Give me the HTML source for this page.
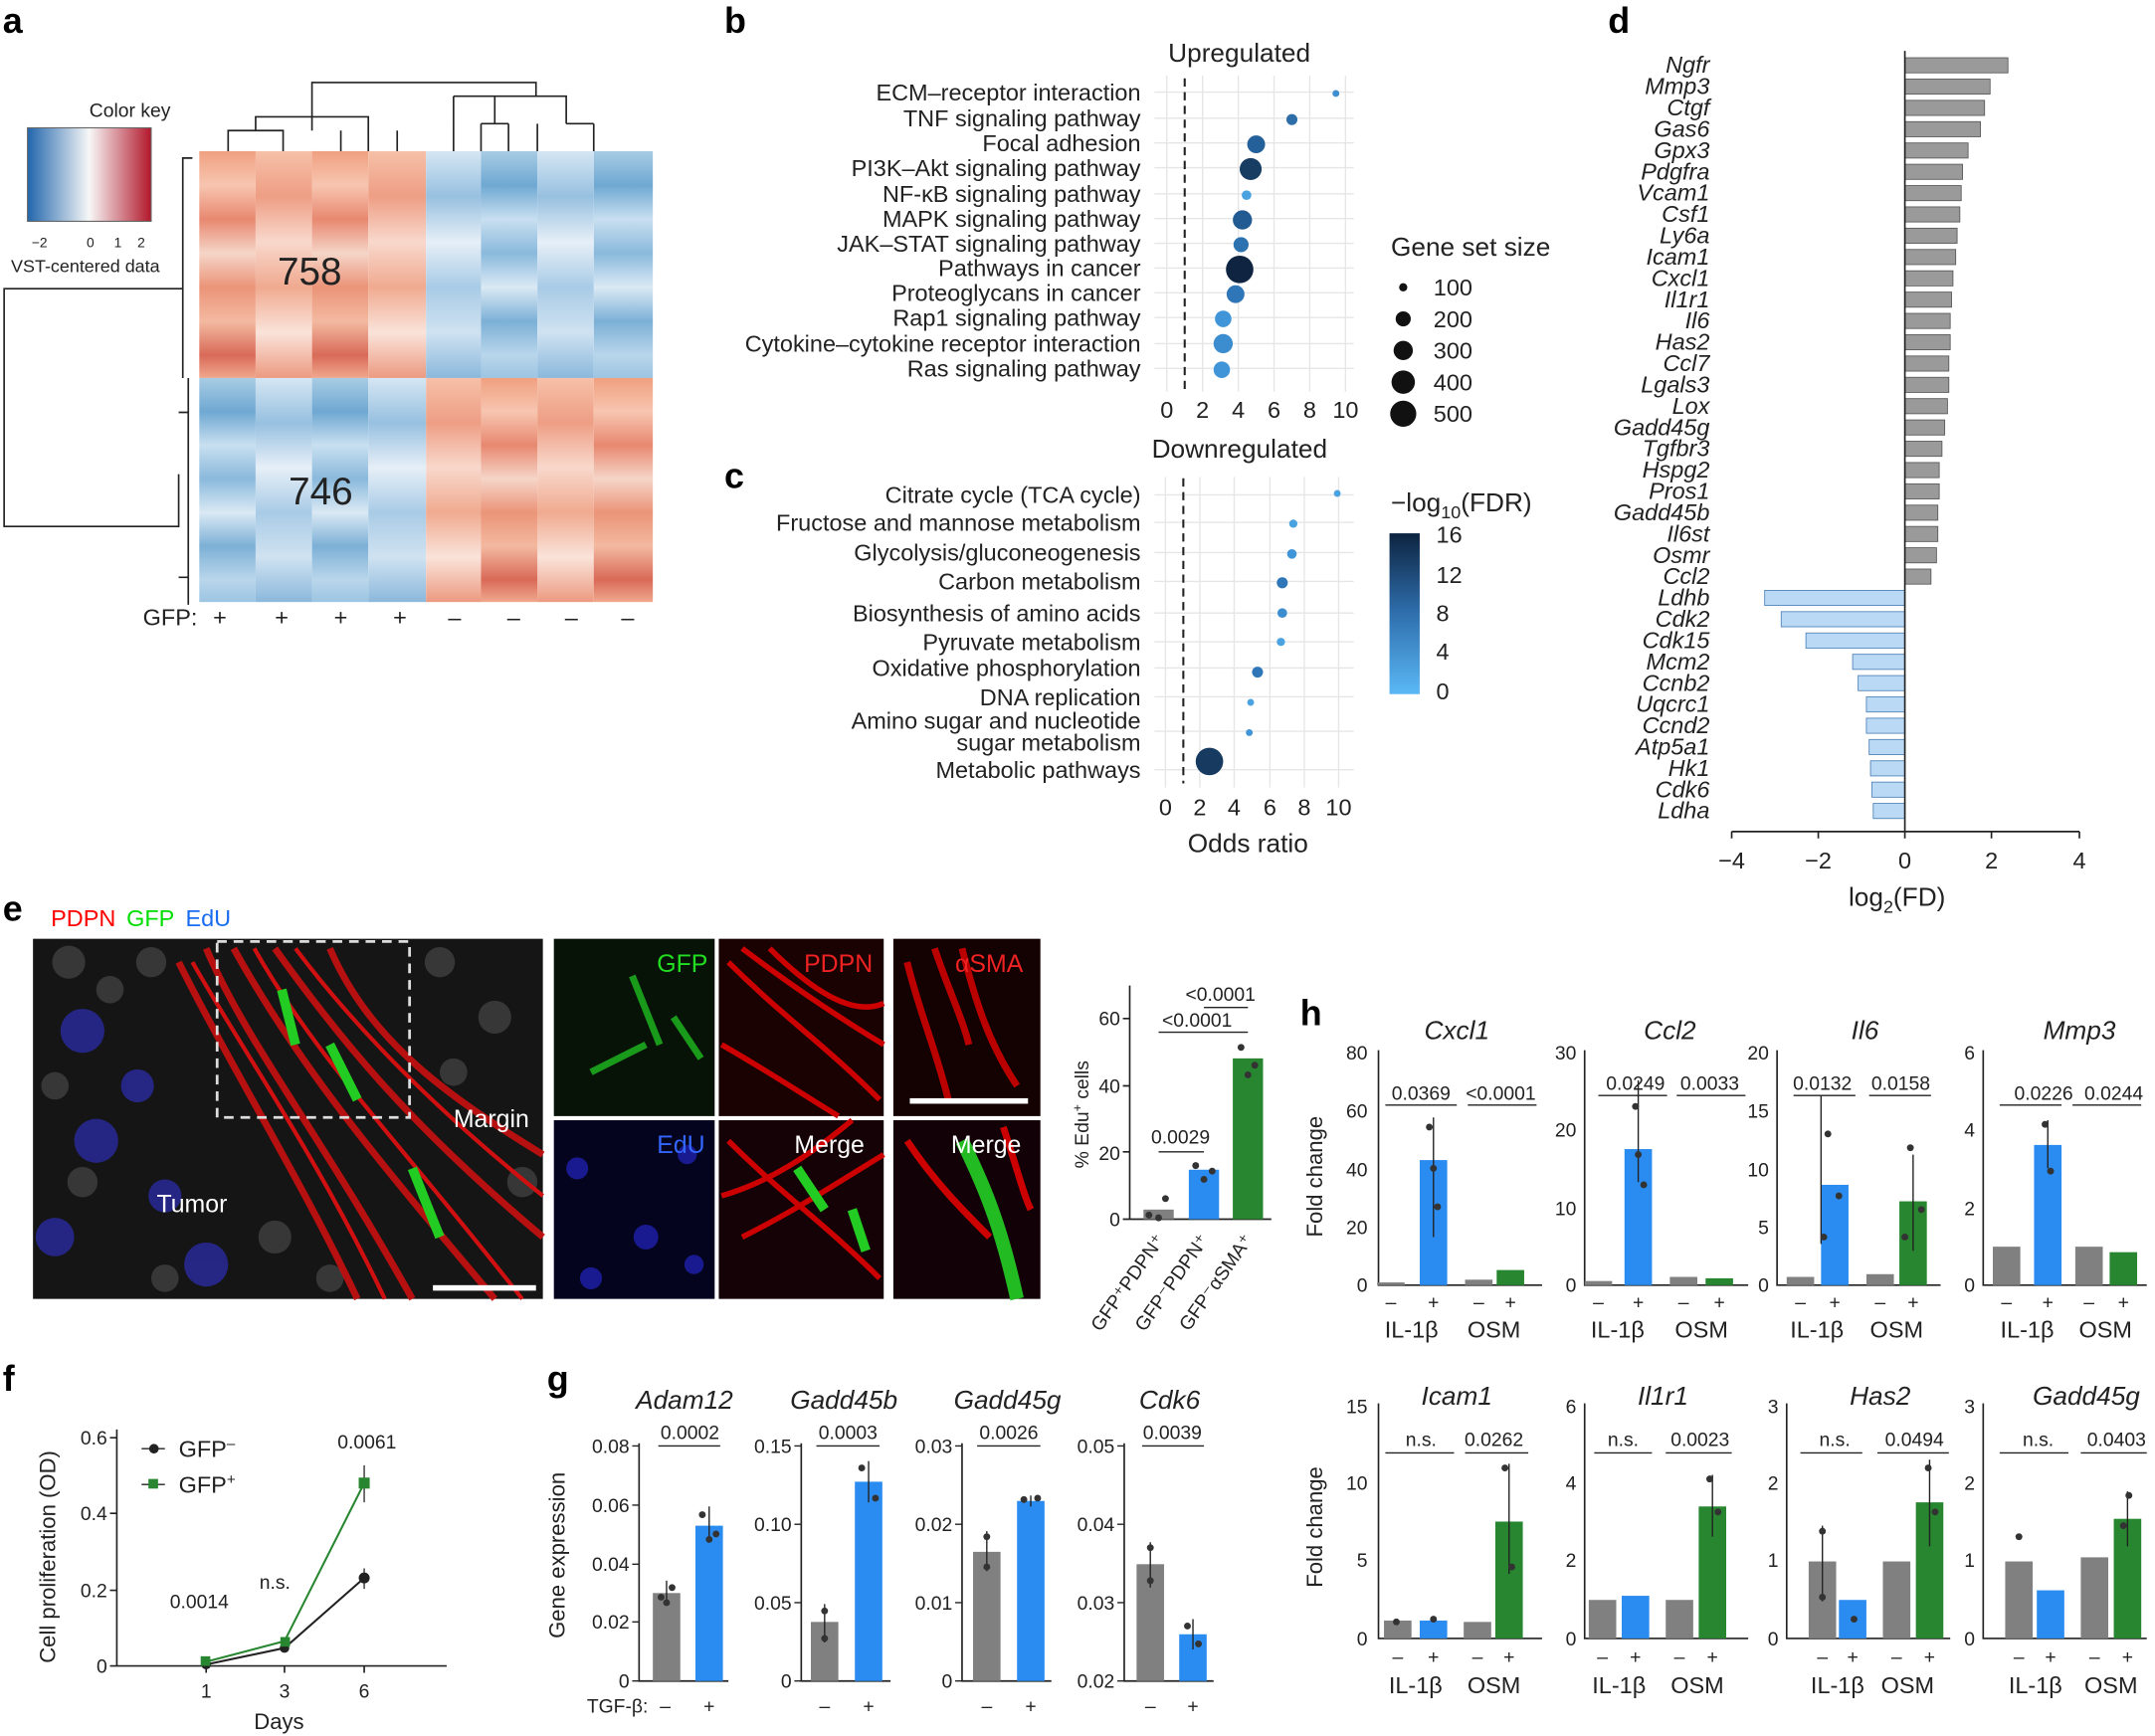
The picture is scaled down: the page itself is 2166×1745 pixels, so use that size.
<!DOCTYPE html>
<html><head><meta charset="utf-8"><style>
html,body{margin:0;padding:0;background:#fff}
svg{display:block}
text{font-family:"Liberation Sans",Arial,sans-serif;fill:#222}
.t{font-size:17px}.s{font-size:14px}.i{font-style:italic}.L{font-size:26px;font-weight:bold;fill:#000}
.ax{stroke:#222;stroke-width:1.2;fill:none}
.g{fill:#808080}.b{fill:#2a8cf0}.gr{fill:#27862f}
</style></head><body>
<svg width="2166" height="1745" viewBox="0 0 1568 1263" preserveAspectRatio="none" xmlns="http://www.w3.org/2000/svg">
<defs>
<linearGradient id="ck" x1="0" x2="1"><stop offset="0" stop-color="#2166ac"/><stop offset=".5" stop-color="#f7f7f7"/><stop offset="1" stop-color="#b2182b"/></linearGradient>
<linearGradient id="fdr" x1="0" y1="0" x2="0" y2="1"><stop offset="0" stop-color="#0d2440"/><stop offset=".5" stop-color="#2f6fae"/><stop offset="1" stop-color="#5ab8f5"/></linearGradient>
<linearGradient id="r1" x1="0" y1="0" x2="0" y2="1"><stop offset="0" stop-color="#f0a080"/><stop offset=".15" stop-color="#f7c5b0"/><stop offset=".3" stop-color="#e88870"/><stop offset=".45" stop-color="#f5d5c8"/><stop offset=".6" stop-color="#eb9478"/><stop offset=".75" stop-color="#f3b9a0"/><stop offset=".9" stop-color="#d96a58"/><stop offset="1" stop-color="#f0a88e"/></linearGradient>
<linearGradient id="r2" x1="0" y1="0" x2="0" y2="1"><stop offset="0" stop-color="#f6c0a8"/><stop offset=".2" stop-color="#ee9e84"/><stop offset=".4" stop-color="#f8d8cc"/><stop offset=".6" stop-color="#f0aa90"/><stop offset=".8" stop-color="#fae3da"/><stop offset="1" stop-color="#ec9a80"/></linearGradient>
<linearGradient id="b1" x1="0" y1="0" x2="0" y2="1"><stop offset="0" stop-color="#a8cce4"/><stop offset=".15" stop-color="#6fa8d2"/><stop offset=".3" stop-color="#c8dff0"/><stop offset=".45" stop-color="#8ab9dc"/><stop offset=".6" stop-color="#dae9f4"/><stop offset=".75" stop-color="#7cb0d6"/><stop offset=".9" stop-color="#b9d6eb"/><stop offset="1" stop-color="#9cc4e2"/></linearGradient>
<linearGradient id="b2" x1="0" y1="0" x2="0" y2="1"><stop offset="0" stop-color="#d5e6f3"/><stop offset=".2" stop-color="#97c0e0"/><stop offset=".4" stop-color="#e6eff7"/><stop offset=".6" stop-color="#a9cbe6"/><stop offset=".8" stop-color="#cfe2f1"/><stop offset="1" stop-color="#8bb8dc"/></linearGradient>
</defs>
<!-- panel a -->
<text x="2" y="24" class="L">a</text>
<text x="65" y="85" class="s">Color key</text>
<rect x="20" y="93" width="90" height="68" fill="url(#ck)" stroke="#666" stroke-width=".8"/>
<text x="23" y="180" style="font-size:10px">−2</text><text x="63" y="180" style="font-size:10px">0</text><text x="83" y="180" style="font-size:10px">1</text><text x="100" y="180" style="font-size:10px">2</text>
<text x="8" y="198" style="font-size:13px">VST-centered data</text>
<g fill="url(#r1)"><rect x="145" y="110" width="41" height="165"/><rect x="227" y="110" width="41" height="165"/></g>
<g fill="url(#r2)"><rect x="186" y="110" width="41" height="165"/><rect x="268" y="110" width="42" height="165"/></g>
<g fill="url(#b1)"><rect x="350" y="110" width="41" height="165"/><rect x="432" y="110" width="43" height="165"/><rect x="145" y="275" width="41" height="163"/><rect x="227" y="275" width="41" height="163"/></g>
<g fill="url(#b2)"><rect x="310" y="110" width="40" height="165"/><rect x="391" y="110" width="41" height="165"/><rect x="186" y="275" width="41" height="163"/><rect x="268" y="275" width="42" height="163"/></g>
<g fill="url(#r2)"><rect x="310" y="275" width="40" height="163"/><rect x="391" y="275" width="41" height="163"/></g>
<g fill="url(#r1)"><rect x="350" y="275" width="41" height="163"/><rect x="432" y="275" width="43" height="163"/></g>
<text x="202" y="207" style="font-size:28px">758</text><text x="210" y="367" style="font-size:28px">746</text>
<g class="ax" stroke-width="1">
<path d="M166 110V95H206V110M186 95V85H268V95M248 95V110M289 95V110M268 95V110M227 95V85M227 85V60H390V70M330 70V110M350 90V110M370 90V110M350 90H370M360 90V70M330 70H412V90M391 90V110M432 90V110M412 90H432"/>
<path d="M140 115H133V275M133 210H3V383H130V345M130 300H137M130 420H137M137 275V440"/>
</g>
<text x="104" y="455" class="t">GFP:</text>
<g class="t"><text x="155" y="455">+</text><text x="200" y="455">+</text><text x="243" y="455">+</text><text x="286" y="455">+</text><text x="326" y="455">–</text><text x="369" y="455">–</text><text x="411" y="455">–</text><text x="452" y="455">–</text></g>
<!-- panel b -->
<text x="527" y="24" class="L">b</text>
<text x="850" y="45" style="font-size:19px">Upregulated</text>
<g stroke="#e6e6e6"><path d="M849 55V285M875 55V285M901 55V285M927 55V285M953 55V285M979 55V285"/>
<path d="M840 67H985M840 86H985M840 104H985M840 122H985M840 141H985M840 159H985M840 177H985M840 195H985M840 213H985M840 231H985M840 250H985M840 268H985"/></g>
<path d="M862 57V283" stroke="#222" stroke-dasharray="6,4" stroke-width="1.5"/>
<g class="t" text-anchor="end">
<text x="830" y="73">ECM–receptor interaction</text><text x="830" y="92">TNF signaling pathway</text><text x="830" y="110">Focal adhesion</text><text x="830" y="128">PI3K–Akt signaling pathway</text><text x="830" y="147">NF-κB signaling pathway</text><text x="830" y="165">MAPK signaling pathway</text><text x="830" y="183">JAK–STAT signaling pathway</text><text x="830" y="201">Pathways in cancer</text><text x="830" y="219">Proteoglycans in cancer</text><text x="830" y="237">Rap1 signaling pathway</text><text x="830" y="256">Cytokine–cytokine receptor interaction</text><text x="830" y="274">Ras signaling pathway</text></g>
<circle cx="972" cy="68" r="2.5" fill="#3f8fd0"/><circle cx="940" cy="87" r="4" fill="#2d6ea8"/><circle cx="914" cy="105" r="6.5" fill="#24609a"/><circle cx="910" cy="123" r="8" fill="#173d63"/><circle cx="907" cy="142" r="3.5" fill="#4aa2e0"/><circle cx="904" cy="160" r="7" fill="#225a92"/><circle cx="903" cy="178" r="5.5" fill="#2c72b0"/><circle cx="902" cy="196" r="10" fill="#0e2440"/><circle cx="899" cy="214" r="6.5" fill="#2e76b8"/><circle cx="890" cy="232" r="6" fill="#3f95d8"/><circle cx="890" cy="250" r="7" fill="#3b8dd0"/><circle cx="889" cy="269" r="6" fill="#3f95d8"/>
<g class="t" text-anchor="middle"><text x="849" y="304">0</text><text x="875" y="304">2</text><text x="901" y="304">4</text><text x="927" y="304">6</text><text x="953" y="304">8</text><text x="979" y="304">10</text></g>
<text x="1012" y="186" style="font-size:19px">Gene set size</text>
<circle cx="1021" cy="209" r="3" fill="#111"/><circle cx="1021" cy="232" r="5.5" fill="#111"/><circle cx="1021" cy="255" r="7" fill="#111"/><circle cx="1021" cy="278" r="8.5" fill="#111"/><circle cx="1021" cy="301" r="9.5" fill="#111"/>
<g class="t"><text x="1043" y="215">100</text><text x="1043" y="238">200</text><text x="1043" y="261">300</text><text x="1043" y="284">400</text><text x="1043" y="307">500</text></g>
<!-- panel c -->
<text x="527" y="355" class="L">c</text>
<text x="838" y="333" style="font-size:19px">Downregulated</text>
<g stroke="#e6e6e6"><path d="M848 347V573M873 347V573M898 347V573M924 347V573M949 347V573M974 347V573"/>
<path d="M840 360H985M840 380H985M840 402H985M840 423H985M840 446H985M840 467H985M840 486H985M840 507H985M840 532H985M840 560H985"/></g>
<path d="M861 348V570" stroke="#222" stroke-dasharray="6,4" stroke-width="1.5"/>
<g class="t" text-anchor="end">
<text x="830" y="366">Citrate cycle (TCA cycle)</text><text x="830" y="386">Fructose and mannose metabolism</text><text x="830" y="408">Glycolysis/gluconeogenesis</text><text x="830" y="429">Carbon metabolism</text><text x="830" y="452">Biosynthesis of amino acids</text><text x="830" y="473">Pyruvate metabolism</text><text x="830" y="492">Oxidative phosphorylation</text><text x="830" y="513">DNA replication</text><text x="830" y="530">Amino sugar and nucleotide</text><text x="830" y="546">sugar metabolism</text><text x="830" y="566">Metabolic pathways</text></g>
<circle cx="973" cy="359" r="2.5" fill="#4aa2e0"/><circle cx="941" cy="381" r="3" fill="#4aa2e0"/><circle cx="940" cy="403" r="3.5" fill="#3f95d8"/><circle cx="933" cy="424" r="4" fill="#2e76b8"/><circle cx="933" cy="446" r="3.5" fill="#3b8dd0"/><circle cx="932" cy="467" r="3" fill="#4aa2e0"/><circle cx="915" cy="489" r="4" fill="#2e76b8"/><circle cx="910" cy="511" r="2.5" fill="#4aa2e0"/><circle cx="909" cy="533" r="2.5" fill="#3f95d8"/><circle cx="880" cy="554" r="10" fill="#163a60"/>
<g class="t" text-anchor="middle"><text x="848" y="593">0</text><text x="873" y="593">2</text><text x="898" y="593">4</text><text x="924" y="593">6</text><text x="949" y="593">8</text><text x="974" y="593">10</text></g>
<text x="908" y="620" text-anchor="middle" style="font-size:19px">Odds ratio</text>
<text x="1012" y="372" style="font-size:19px">−log<tspan dy="5" font-size="13">10</tspan><tspan dy="-5">(FDR)</tspan></text>
<rect x="1011" y="388" width="22" height="117" fill="url(#fdr)"/>
<g class="t"><text x="1045" y="395">16</text><text x="1045" y="424">12</text><text x="1045" y="452">8</text><text x="1045" y="480">4</text><text x="1045" y="509">0</text></g>
<!-- panel d -->
<text x="1170" y="24" class="L">d</text>
<g stroke="#555" stroke-width=".6" fill="#9a9a9a">
<rect x="1386" y="42" width="75" height="11"/><rect x="1386" y="57.5" width="62" height="11"/><rect x="1386" y="73" width="58" height="11"/><rect x="1386" y="88.5" width="55" height="11"/><rect x="1386" y="104" width="46" height="11"/><rect x="1386" y="119.5" width="42" height="11"/><rect x="1386" y="135" width="41" height="11"/><rect x="1386" y="150.5" width="40" height="11"/><rect x="1386" y="166" width="38" height="11"/><rect x="1386" y="181.5" width="37" height="11"/><rect x="1386" y="197" width="35" height="11"/><rect x="1386" y="212.5" width="34" height="11"/><rect x="1386" y="228" width="33" height="11"/><rect x="1386" y="243.5" width="33" height="11"/><rect x="1386" y="259" width="32" height="11"/><rect x="1386" y="274.5" width="32" height="11"/><rect x="1386" y="290" width="31" height="11"/><rect x="1386" y="305.5" width="29" height="11"/><rect x="1386" y="321" width="27" height="11"/><rect x="1386" y="336.5" width="25" height="11"/><rect x="1386" y="352" width="25" height="11"/><rect x="1386" y="367.5" width="24" height="11"/><rect x="1386" y="383" width="24" height="11"/><rect x="1386" y="398.5" width="23" height="11"/><rect x="1386" y="414" width="19" height="11"/></g>
<g stroke="#4a7fb5" stroke-width=".6" fill="#b9d9f5">
<rect x="1284" y="429.5" width="102" height="11"/><rect x="1296" y="445" width="90" height="11"/><rect x="1314" y="460.5" width="72" height="11"/><rect x="1348" y="476" width="38" height="11"/><rect x="1352" y="491.5" width="34" height="11"/><rect x="1358" y="507" width="28" height="11"/><rect x="1358" y="522.5" width="28" height="11"/><rect x="1360" y="538" width="26" height="11"/><rect x="1361" y="553.5" width="25" height="11"/><rect x="1362" y="569" width="24" height="11"/><rect x="1363" y="584.5" width="23" height="11"/></g>
<path d="M1386 37V605M1260 605H1513M1260 605v5M1323 605v5M1386 605v5M1449 605v5M1513 605v5" class="ax"/>
<g class="t i" text-anchor="end">
<text x="1244" y="53">Ngfr</text><text x="1244" y="68.5">Mmp3</text><text x="1244" y="84">Ctgf</text><text x="1244" y="99.5">Gas6</text><text x="1244" y="115">Gpx3</text><text x="1244" y="130.5">Pdgfra</text><text x="1244" y="146">Vcam1</text><text x="1244" y="161.5">Csf1</text><text x="1244" y="177">Ly6a</text><text x="1244" y="192.5">Icam1</text><text x="1244" y="208">Cxcl1</text><text x="1244" y="223.5">Il1r1</text><text x="1244" y="239">Il6</text><text x="1244" y="254.5">Has2</text><text x="1244" y="270">Ccl7</text><text x="1244" y="285.5">Lgals3</text><text x="1244" y="301">Lox</text><text x="1244" y="316.5">Gadd45g</text><text x="1244" y="332">Tgfbr3</text><text x="1244" y="347.5">Hspg2</text><text x="1244" y="363">Pros1</text><text x="1244" y="378.5">Gadd45b</text><text x="1244" y="394">Il6st</text><text x="1244" y="409.5">Osmr</text><text x="1244" y="425">Ccl2</text><text x="1244" y="440.5">Ldhb</text><text x="1244" y="456">Cdk2</text><text x="1244" y="471.5">Cdk15</text><text x="1244" y="487">Mcm2</text><text x="1244" y="502.5">Ccnb2</text><text x="1244" y="518">Uqcrc1</text><text x="1244" y="533.5">Ccnd2</text><text x="1244" y="549">Atp5a1</text><text x="1244" y="564.5">Hk1</text><text x="1244" y="580">Cdk6</text><text x="1244" y="595.5">Ldha</text></g>
<g class="t" text-anchor="middle"><text x="1260" y="632">−4</text><text x="1323" y="632">−2</text><text x="1386" y="632">0</text><text x="1449" y="632">2</text><text x="1513" y="632">4</text></g>
<text x="1345" y="659" style="font-size:19px">log<tspan dy="5" font-size="13">2</tspan><tspan dy="-5">(FD)</tspan></text>
<!-- panel e -->
<text x="2" y="670" class="L">e</text>
<text x="37" y="674" class="t" style="fill:#f00">PDPN</text><text x="92" y="674" class="t" style="fill:#0d0">GFP</text><text x="135" y="674" class="t" style="fill:#1a6cf0">EdU</text>
<rect x="24" y="683" width="371" height="262" fill="#151515"/>
<g fill="#777" opacity=".35"><circle cx="50" cy="700" r="12"/><circle cx="80" cy="720" r="10"/><circle cx="110" cy="700" r="11"/><circle cx="40" cy="790" r="10"/><circle cx="320" cy="700" r="11"/><circle cx="360" cy="740" r="12"/><circle cx="330" cy="780" r="10"/><circle cx="60" cy="860" r="11"/><circle cx="200" cy="900" r="12"/><circle cx="240" cy="930" r="10"/><circle cx="380" cy="860" r="11"/><circle cx="120" cy="930" r="10"/></g>
<g fill="#2a2aa0" opacity=".8"><circle cx="60" cy="750" r="16"/><circle cx="70" cy="830" r="16"/><circle cx="40" cy="900" r="14"/><circle cx="150" cy="920" r="16"/><circle cx="100" cy="790" r="12"/><circle cx="120" cy="870" r="12"/></g>
<path d="M150 690C180 760 230 820 300 945M170 690C220 780 280 850 360 945M130 700C170 780 220 860 260 945M200 690C250 760 300 820 395 900M240 690C270 760 330 800 395 840" stroke="#c81010" stroke-width="5" fill="none" opacity=".9"/>
<path d="M140 700C180 770 230 840 280 945M185 690C230 770 290 830 380 945M215 690C260 750 320 810 395 870" stroke="#d01010" stroke-width="3" fill="none"/>
<path d="M240 760L260 800M300 850L320 900M205 720L215 760" stroke="#2c2" stroke-width="7"/>
<rect x="158" y="685" width="140" height="128" fill="none" stroke="#ddd" stroke-width="2" stroke-dasharray="7,5"/>
<text x="330" y="820" class="t" style="fill:#fff;font-size:18px">Margin</text><text x="114" y="882" class="t" style="fill:#fff;font-size:18px">Tumor</text>
<rect x="315" y="935" width="75" height="4" fill="#fff"/>
<rect x="403" y="683" width="117" height="129" fill="#061306"/><path d="M460 710L480 760M490 740L510 770M430 780L470 760" stroke="#1a9a1a" stroke-width="5"/>
<rect x="523" y="683" width="120" height="129" fill="#1a0202"/><path d="M530 700C570 740 600 760 640 800M540 690C580 720 610 740 643 760M525 760C560 780 590 800 610 812M560 690C590 720 620 740 643 730" stroke="#c00" stroke-width="4" fill="none"/>
<rect x="650" y="683" width="107" height="129" fill="#140202"/><path d="M660 700C670 740 680 760 690 800M700 690C710 730 720 760 740 790M680 690C690 720 700 740 705 760" stroke="#b00" stroke-width="5" fill="none"/>
<rect x="662" y="799" width="86" height="4" fill="#fff"/>
<rect x="403" y="815" width="117" height="130" fill="#04041e"/><g fill="#1a1a90"><circle cx="420" cy="850" r="8"/><circle cx="470" cy="900" r="9"/><circle cx="500" cy="840" r="7"/><circle cx="430" cy="930" r="8"/><circle cx="505" cy="920" r="7"/></g>
<rect x="523" y="815" width="120" height="130" fill="#150206"/><path d="M530 830C570 870 600 890 640 930M540 900C580 880 610 860 643 840M525 870C560 860 590 840 620 815" stroke="#c00" stroke-width="4" fill="none"/><path d="M580 850L600 880M620 880L630 910" stroke="#2c2" stroke-width="7"/>
<rect x="650" y="815" width="107" height="130" fill="#120208"/><path d="M700 830C720 870 730 900 740 945" stroke="#2b2" stroke-width="10" fill="none"/><path d="M660 830C680 860 700 880 720 900M730 820C740 850 745 870 750 880" stroke="#c00" stroke-width="5" fill="none"/>
<g style="font-size:18px"><text x="478" y="707" style="fill:#2d2">GFP</text><text x="585" y="707" style="fill:#e22">PDPN</text><text x="695" y="707" style="fill:#e22">αSMA</text><text x="478" y="839" style="fill:#36f">EdU</text><text x="578" y="839" style="fill:#fff">Merge</text><text x="692" y="839" style="fill:#fff">Merge</text></g>
<!-- e bar chart -->
<path d="M822 717V887H925M822 887h-5M822 838h-5M822 790h-5M822 741h-5" class="ax"/>
<g class="s" text-anchor="end"><text x="815" y="892">0</text><text x="815" y="844">20</text><text x="815" y="795">40</text><text x="815" y="746">60</text></g>
<rect x="832" y="880" width="22" height="7" class="g"/><rect x="865" y="851" width="22" height="36" class="b"/><rect x="897" y="770" width="22" height="117" class="gr"/>
<g fill="#333"><circle cx="836" cy="884" r="2.5"/><circle cx="848" cy="872" r="2.5"/><circle cx="843" cy="886" r="2.5"/><circle cx="870" cy="848" r="2.5"/><circle cx="882" cy="852" r="2.5"/><circle cx="876" cy="858" r="2.5"/><circle cx="903" cy="762" r="2.5"/><circle cx="913" cy="775" r="2.5"/><circle cx="908" cy="782" r="2.5"/></g>
<path d="M843 838H876M843 751H908M876 733H908" stroke="#222"/>
<g class="s" text-anchor="middle"><text x="859" y="832">0.0029</text><text x="871" y="747">&lt;0.0001</text><text x="888" y="728">&lt;0.0001</text></g>
<text transform="translate(792,850) rotate(-90)" class="s">% Edu<tspan dy="-5" font-size="9">+</tspan><tspan dy="5"> cells</tspan></text>
<g class="s"><text transform="translate(848,902) rotate(-55)" text-anchor="end">GFP⁺PDPN⁺</text><text transform="translate(880,902) rotate(-55)" text-anchor="end">GFP⁻PDPN⁺</text><text transform="translate(912,902) rotate(-55)" text-anchor="end">GFP⁻αSMA⁺</text></g>
<!-- panel f -->
<text x="2" y="1012" class="L">f</text>
<path d="M85 1040V1212H325M85 1212h-5M85 1157h-5M85 1101h-5M85 1046h-5M150 1212v5M207 1212v5M265 1212v5" class="ax"/>
<g class="s" text-anchor="end"><text x="78" y="1217">0</text><text x="78" y="1162">0.2</text><text x="78" y="1106">0.4</text><text x="78" y="1051">0.6</text></g>
<g class="s" text-anchor="middle"><text x="150" y="1235">1</text><text x="207" y="1235">3</text><text x="265" y="1235">6</text><text x="203" y="1258" style="font-size:16px">Days</text></g>
<text transform="translate(40,1210) rotate(-90)" style="font-size:16px">Cell proliferation (OD)</text>
<polyline points="150,1211 207,1199 265,1148" fill="none" stroke="#222" stroke-width="1.5"/><polyline points="150,1209 207,1194 265,1079" fill="none" stroke="#27862f" stroke-width="1.5"/>
<path d="M265 1141V1156M265 1066V1093" stroke="#333"/>
<circle cx="150" cy="1211" r="3.5" fill="#222"/><circle cx="207" cy="1199" r="3.5" fill="#222"/><circle cx="265" cy="1148" r="4" fill="#222"/>
<rect x="146" y="1205" width="7" height="7" fill="#27862f"/><rect x="204" y="1191" width="7" height="7" fill="#27862f"/><rect x="261" y="1075" width="8" height="8" fill="#27862f"/>
<path d="M103 1054H120M103 1080H120" stroke="#222"/><circle cx="112" cy="1054" r="3.5" fill="#222"/><rect x="108" y="1076" width="7" height="7" fill="#27862f"/>
<g class="t"><text x="130" y="1060">GFP<tspan dy="-6" font-size="11">–</tspan></text><text x="130" y="1086">GFP<tspan dy="-6" font-size="11">+</tspan></text></g>
<g class="s" text-anchor="middle"><text x="145" y="1170">0.0014</text><text x="200" y="1156">n.s.</text><text x="267" y="1054">0.0061</text></g>
<!-- panel g -->
<text x="398" y="1012" class="L">g</text>
<text transform="translate(411,1192) rotate(-90)" style="font-size:16px">Gene expression</text>
<g class="t i" text-anchor="middle" style="font-size:19px"><text x="498" y="1025">Adam12</text><text x="614" y="1025">Gadd45b</text><text x="733" y="1025">Gadd45g</text><text x="851" y="1025">Cdk6</text></g>
<path d="M465 1050V1223H530M583 1050V1223H648M700 1050V1223H765M818 1050V1223H883" class="ax"/>
<path d="M465 1223h-5M465 1180h-5M465 1138h-5M465 1095h-5M465 1052h-5M583 1223h-5M583 1166h-5M583 1109h-5M583 1052h-5M700 1223h-5M700 1166h-5M700 1109h-5M700 1052h-5M818 1223h-5M818 1166h-5M818 1109h-5M818 1052h-5" stroke="#222"/>
<g class="s" text-anchor="end"><text x="458" y="1228">0</text><text x="458" y="1185">0.02</text><text x="458" y="1143">0.04</text><text x="458" y="1100">0.06</text><text x="458" y="1057">0.08</text>
<text x="576" y="1228">0</text><text x="576" y="1171">0.05</text><text x="576" y="1114">0.10</text><text x="576" y="1057">0.15</text>
<text x="693" y="1228">0</text><text x="693" y="1171">0.01</text><text x="693" y="1114">0.02</text><text x="693" y="1057">0.03</text>
<text x="811" y="1228">0.02</text><text x="811" y="1171">0.03</text><text x="811" y="1114">0.04</text><text x="811" y="1057">0.05</text></g>
<rect x="475" y="1159" width="20" height="64" class="g"/><rect x="506" y="1110" width="20" height="113" class="b"/>
<rect x="590" y="1180" width="20" height="43" class="g"/><rect x="622" y="1078" width="20" height="145" class="b"/>
<rect x="708" y="1129" width="20" height="94" class="g"/><rect x="740" y="1092" width="20" height="131" class="b"/>
<rect x="827" y="1138" width="20" height="85" class="g"/><rect x="858" y="1189" width="20" height="34" class="b"/>
<g stroke="#222"><path d="M479 1052H524M594 1052H640M711 1052H757M831 1052H876M485 1150V1167M516 1096V1122M600 1167V1195M632 1063V1093M718 1114V1143M750 1088V1096M837 1122V1155M868 1178V1200"/></g>
<g fill="#333"><circle cx="481" cy="1162" r="2.5"/><circle cx="489" cy="1155" r="2.5"/><circle cx="485" cy="1166" r="2.5"/><circle cx="511" cy="1102" r="2.5"/><circle cx="521" cy="1116" r="2.5"/><circle cx="516" cy="1120" r="2.5"/><circle cx="600" cy="1172" r="2.5"/><circle cx="600" cy="1192" r="2.5"/><circle cx="627" cy="1068" r="2.5"/><circle cx="637" cy="1090" r="2.5"/><circle cx="718" cy="1118" r="2.5"/><circle cx="718" cy="1140" r="2.5"/><circle cx="745" cy="1091" r="2.5"/><circle cx="755" cy="1090" r="2.5"/><circle cx="837" cy="1126" r="2.5"/><circle cx="837" cy="1150" r="2.5"/><circle cx="864" cy="1183" r="2.5"/><circle cx="872" cy="1196" r="2.5"/></g>
<g class="s" text-anchor="middle"><text x="502" y="1047">0.0002</text><text x="617" y="1047">0.0003</text><text x="734" y="1047">0.0026</text><text x="853" y="1047">0.0039</text>
<text x="484" y="1246">–</text><text x="516" y="1246">+</text><text x="600" y="1246">–</text><text x="632" y="1246">+</text><text x="718" y="1246">–</text><text x="750" y="1246">+</text><text x="837" y="1246">–</text><text x="868" y="1246">+</text></g>
<text x="427" y="1246" class="s">TGF-β:</text>
<!-- panel h -->
<text x="946" y="746" class="L">h</text>
<text transform="translate(962,900) rotate(-90)" style="font-size:16px">Fold change</text>
<text transform="translate(962,1155) rotate(-90)" style="font-size:16px">Fold change</text>
<g class="t i" text-anchor="middle" style="font-size:19px"><text x="1060" y="756">Cxcl1</text><text x="1215" y="756">Ccl2</text><text x="1357" y="756">Il6</text><text x="1513" y="756">Mmp3</text>
<text x="1060" y="1022">Icam1</text><text x="1210" y="1022">Il1r1</text><text x="1368" y="1022">Has2</text><text x="1518" y="1022">Gadd45g</text></g>
<path d="M1003 764V935H1122M1153 764V935H1272M1293 764V935H1412M1443 764V935H1562M1003 1021V1192H1122M1153 1021V1192H1272M1300 1021V1192H1419M1443 1021V1192H1562" class="ax"/>
<g class="s" text-anchor="end">
<text x="995" y="940">0</text><text x="995" y="898">20</text><text x="995" y="856">40</text><text x="995" y="813">60</text><text x="995" y="771">80</text>
<text x="1147" y="940">0</text><text x="1147" y="884">10</text><text x="1147" y="827">20</text><text x="1147" y="771">30</text>
<text x="1287" y="940">0</text><text x="1287" y="898">5</text><text x="1287" y="856">10</text><text x="1287" y="813">15</text><text x="1287" y="771">20</text>
<text x="1437" y="940">0</text><text x="1437" y="884">2</text><text x="1437" y="827">4</text><text x="1437" y="771">6</text>
<text x="995" y="1197">0</text><text x="995" y="1140">5</text><text x="995" y="1084">10</text><text x="995" y="1028">15</text>
<text x="1147" y="1197">0</text><text x="1147" y="1140">2</text><text x="1147" y="1084">4</text><text x="1147" y="1028">6</text>
<text x="1294" y="1197">0</text><text x="1294" y="1140">1</text><text x="1294" y="1084">2</text><text x="1294" y="1028">3</text>
<text x="1437" y="1197">0</text><text x="1437" y="1140">1</text><text x="1437" y="1084">2</text><text x="1437" y="1028">3</text></g>
<rect x="1002" y="933" width="20" height="2" class="g"/><rect x="1033" y="844" width="20" height="91" class="b"/><rect x="1066" y="931" width="20" height="4" class="g"/><rect x="1089" y="924" width="20" height="11" class="gr"/>
<rect x="1153" y="932" width="20" height="3" class="g"/><rect x="1182" y="836" width="20" height="99" class="b"/><rect x="1215" y="929" width="20" height="6" class="g"/><rect x="1241" y="930" width="20" height="5" class="gr"/>
<rect x="1300" y="929" width="20" height="6" class="g"/><rect x="1325" y="862" width="20" height="73" class="b"/><rect x="1358" y="927" width="20" height="8" class="g"/><rect x="1382" y="874" width="20" height="61" class="gr"/>
<rect x="1450" y="907" width="20" height="28" class="g"/><rect x="1480" y="833" width="20" height="102" class="b"/><rect x="1510" y="907" width="20" height="28" class="g"/><rect x="1535" y="911" width="20" height="24" class="gr"/>
<rect x="1007" y="1179" width="20" height="13" class="g"/><rect x="1033" y="1179" width="20" height="13" class="b"/><rect x="1065" y="1180" width="20" height="12" class="g"/><rect x="1088" y="1107" width="20" height="85" class="gr"/>
<rect x="1156" y="1164" width="20" height="28" class="g"/><rect x="1180" y="1161" width="20" height="31" class="b"/><rect x="1212" y="1164" width="20" height="28" class="g"/><rect x="1236" y="1096" width="20" height="96" class="gr"/>
<rect x="1316" y="1136" width="20" height="56" class="g"/><rect x="1338" y="1164" width="20" height="28" class="b"/><rect x="1370" y="1136" width="20" height="56" class="g"/><rect x="1394" y="1093" width="20" height="99" class="gr"/>
<rect x="1459" y="1136" width="20" height="56" class="g"/><rect x="1482" y="1157" width="20" height="35" class="b"/><rect x="1514" y="1133" width="20" height="59" class="g"/><rect x="1538" y="1105" width="20" height="87" class="gr"/>
<g stroke="#222"><path d="M1043 813V900M1325 797V905M1392 840V910M1490 815V850M1098 1065V1145M1246 1073V1118M1404 1062V1125M1326 1110V1165M1548 1085V1125M1192 786V860"/>
<path d="M1008 804H1060M1068 804H1118M1163 797H1213M1220 797H1270M1305 797H1350M1360 797H1405M1455 804H1500M1508 804H1558M1008 1057H1058M1066 1057H1112M1160 1057H1202M1212 1057H1260M1310 1057H1355M1366 1057H1418M1455 1057H1505M1514 1057H1562"/></g>
<g fill="#333"><circle cx="1040" cy="820" r="2.5"/><circle cx="1046" cy="878" r="2.5"/><circle cx="1043" cy="850" r="2.5"/><circle cx="1190" cy="805" r="2.5"/><circle cx="1196" cy="862" r="2.5"/><circle cx="1192" cy="840" r="2.5"/><circle cx="1330" cy="825" r="2.5"/><circle cx="1338" cy="870" r="2.5"/><circle cx="1327" cy="900" r="2.5"/><circle cx="1390" cy="835" r="2.5"/><circle cx="1398" cy="880" r="2.5"/><circle cx="1386" cy="900" r="2.5"/><circle cx="1488" cy="818" r="2.5"/><circle cx="1492" cy="852" r="2.5"/><circle cx="1095" cy="1068" r="2.5"/><circle cx="1100" cy="1140" r="2.5"/><circle cx="1244" cy="1076" r="2.5"/><circle cx="1250" cy="1100" r="2.5"/><circle cx="1403" cy="1068" r="2.5"/><circle cx="1408" cy="1100" r="2.5"/><circle cx="1326" cy="1114" r="2.5"/><circle cx="1326" cy="1162" r="2.5"/><circle cx="1549" cy="1088" r="2.5"/><circle cx="1545" cy="1110" r="2.5"/><circle cx="1469" cy="1118" r="2.5"/><circle cx="1349" cy="1178" r="2.5"/><circle cx="1016" cy="1180" r="2.5"/><circle cx="1043" cy="1178" r="2.5"/></g>
<g class="s" text-anchor="middle"><text x="1034" y="800">0.0369</text><text x="1092" y="800">&lt;0.0001</text><text x="1190" y="793">0.0249</text><text x="1244" y="793">0.0033</text><text x="1326" y="793">0.0132</text><text x="1383" y="793">0.0158</text><text x="1487" y="800">0.0226</text><text x="1538" y="800">0.0244</text>
<text x="1034" y="1052">n.s.</text><text x="1087" y="1052">0.0262</text><text x="1181" y="1052">n.s.</text><text x="1237" y="1052">0.0023</text><text x="1335" y="1052">n.s.</text><text x="1393" y="1052">0.0494</text><text x="1483" y="1052">n.s.</text><text x="1540" y="1052">0.0403</text></g>
<g class="s" text-anchor="middle">
<text x="1012" y="952">–</text><text x="1043" y="952">+</text><text x="1076" y="952">–</text><text x="1099" y="952">+</text><text x="1163" y="952">–</text><text x="1192" y="952">+</text><text x="1225" y="952">–</text><text x="1251" y="952">+</text><text x="1310" y="952">–</text><text x="1335" y="952">+</text><text x="1368" y="952">–</text><text x="1392" y="952">+</text><text x="1460" y="952">–</text><text x="1490" y="952">+</text><text x="1520" y="952">–</text><text x="1545" y="952">+</text>
<text x="1017" y="1210">–</text><text x="1043" y="1210">+</text><text x="1075" y="1210">–</text><text x="1098" y="1210">+</text><text x="1166" y="1210">–</text><text x="1190" y="1210">+</text><text x="1222" y="1210">–</text><text x="1246" y="1210">+</text><text x="1326" y="1210">–</text><text x="1348" y="1210">+</text><text x="1380" y="1210">–</text><text x="1404" y="1210">+</text><text x="1469" y="1210">–</text><text x="1492" y="1210">+</text><text x="1524" y="1210">–</text><text x="1548" y="1210">+</text></g>
<g class="t" text-anchor="middle"><text x="1027" y="973">IL-1β</text><text x="1087" y="973">OSM</text><text x="1177" y="973">IL-1β</text><text x="1238" y="973">OSM</text><text x="1322" y="973">IL-1β</text><text x="1380" y="973">OSM</text><text x="1475" y="973">IL-1β</text><text x="1532" y="973">OSM</text>
<text x="1030" y="1232">IL-1β</text><text x="1087" y="1232">OSM</text><text x="1178" y="1232">IL-1β</text><text x="1235" y="1232">OSM</text><text x="1337" y="1232">IL-1β</text><text x="1388" y="1232">OSM</text><text x="1481" y="1232">IL-1β</text><text x="1536" y="1232">OSM</text></g>
</svg>
</body></html>
